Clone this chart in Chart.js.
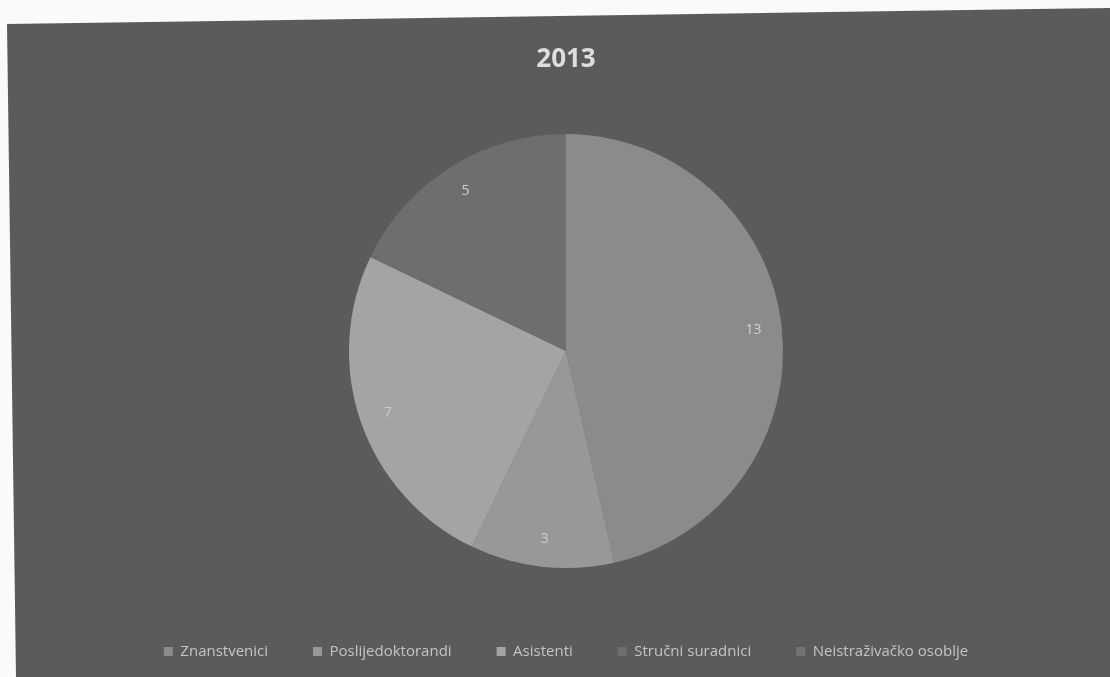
<!DOCTYPE html>
<html>
<head>
<meta charset="utf-8">
<script src="https://cdn.jsdelivr.net/npm/chart.js@4"></script>
<style>
  body { margin: 0; background: #fafafa; }
  #frame {
    position: absolute; left: 0; top: 0; width: 1110px; height: 677px;
    background: #5b5b5b;
    clip-path: polygon(7px 24px, 1110px 8px, 1110px 677px, 16px 677px);
  }
  #wrap { position: absolute; left: 0; top: 0; width: 1110px; height: 677px; }
</style>
</head>
<body>
<div id="frame"></div>
<div id="wrap"><canvas id="pieChart"></canvas></div>
<script>
const title = "2013";
const categories = ["Znanstvenici", "Poslijedoktorandi", "Asistenti", "Stručni suradnici", "Neistraživačko osoblje"];
const values = [13, 3, 7, 5, 0];
const colors = ["#8b8b8b", "#989898", "#a4a4a4", "#6e6e6e", "#747474"];

// draws the value inside each slice, near the rim
const sliceLabels = {
  id: "sliceLabels",
  afterDatasetsDraw(chart) {
    const ctx = chart.ctx;
    const meta = chart.getDatasetMeta(0);
    ctx.save();
    ctx.font = "14px 'Open Sans'";
    ctx.fillStyle = "#cfcfcf";
    ctx.textAlign = "center";
    ctx.textBaseline = "middle";
    meta.data.forEach((arc, i) => {
      if (!values[i]) return;
      const p = arc.getProps(["x", "y", "startAngle", "endAngle", "outerRadius"], true);
      const mid = (p.startAngle + p.endAngle) / 2;
      const r = p.outerRadius * 0.87;
      ctx.fillText(String(values[i]), p.x + Math.cos(mid) * r, p.y + Math.sin(mid) * r);
    });
    ctx.restore();
  }
};

new Chart(document.getElementById("pieChart"), {
  type: "pie",
  data: {
    labels: categories,
    datasets: [{
      data: values,
      backgroundColor: colors,
      borderWidth: 0,
      radius: 217
    }]
  },
  options: {
    responsive: true,
    maintainAspectRatio: false,
    animation: false,
    layout: { padding: { left: 22, right: 0, bottom: 8 } },
    plugins: {
      title: {
        display: true,
        text: title,
        color: "#dedede",
        font: { family: "'Open Sans'", size: 26, weight: "bold" },
        padding: { top: 44, bottom: 28 }
      },
      legend: {
        position: "bottom",
        labels: {
          color: "#c4c4c4",
          boxWidth: 9,
          boxHeight: 9,
          padding: 45,
          font: { family: "'Open Sans'", size: 15 }
        }
      },
      tooltip: { enabled: false }
    }
  },
  plugins: [sliceLabels]
});
</script>
</body>
</html>
